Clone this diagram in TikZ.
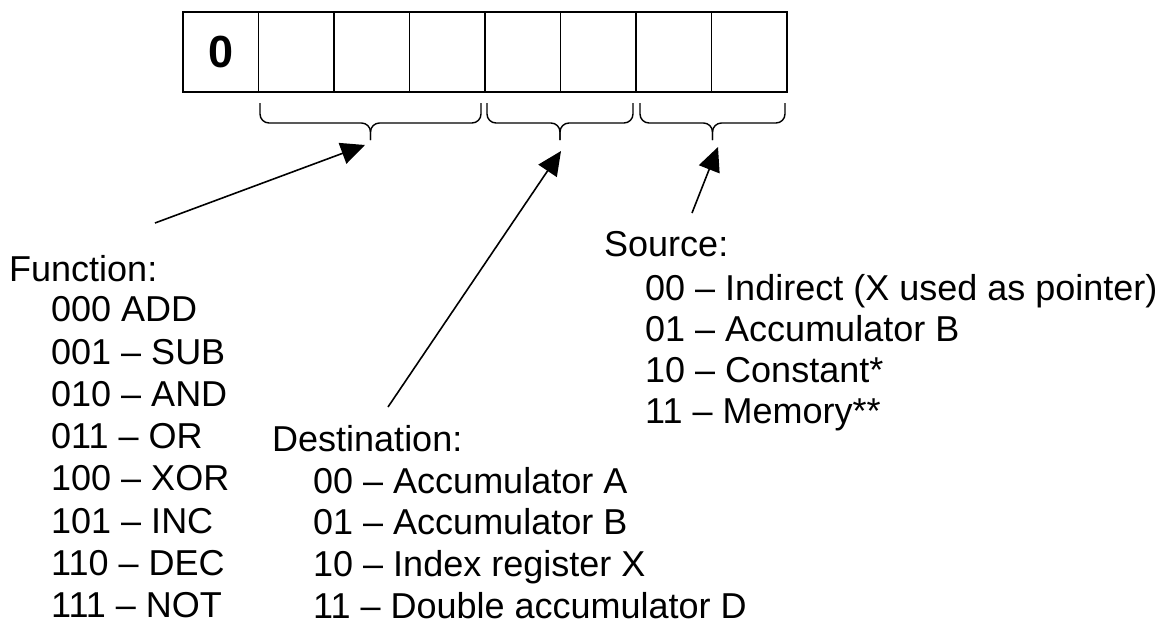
\documentclass[tikz,border=0pt]{standalone}
\usepackage{fontspec}
\setmainfont{Liberation Sans}
\usetikzlibrary{arrows.meta}

\begin{document}
\begin{tikzpicture}[
    x=1pt, y=-1pt,
    cell/.style={draw, line width=1.6pt, minimum width=75.5pt,
                 minimum height=80pt, inner sep=0pt},
    txt/.style={font=\fontsize{36}{42}\selectfont, inner sep=0pt,
                anchor=base west},
    fieldbrace/.style={line width=1.4pt, rounded corners=9pt},
    pointer/.style={line width=1.6pt, -{Triangle[length=24pt, width=22pt]}}
  ]
  \useasboundingbox (0,0) rectangle (1171,624);

  % Register
  \node[cell, font=\fontsize{45}{45}\selectfont\bfseries] (c0) at (220.75, 52) {0};
  \foreach \i in {1,...,7} {
    \node[cell] (c\i) at ({220.75+75.5*\i}, 52) {};
  }

  % Field braces
  \foreach \l/\r in {260/481, 487/633, 640/785} {
    \pgfmathsetmacro{\m}{(\l+\r)/2}
    \draw[fieldbrace] (\l,103) |- (\m,123) -- (\m,140);
    \draw[fieldbrace] (\r,103) |- (\m,123) -- (\m,140);
  }

  % Function
  \node[txt] (fnHead) at (9, 281.7) {Function:};
  \foreach \t [count=\i from 0] in {000 ADD, 001 – SUB, 010 – AND, 011 – OR,
                                    100 – XOR, 101 – INC, 110 – DEC, 111 – NOT} {
    \node[txt] (fn\i) at (51, {321.7+42.3*\i}) {\t};
  }

  % Destination
  \node[txt] (dstHead) at (272, 451.7) {Destination:};
  \foreach \t [count=\i from 0] in {00 – Accumulator A, 01 – Accumulator B,
                                    10 – Index register X, 11 – Double accumulator D} {
    \node[txt] (dst\i) at (313, {493+41.7*\i}) {\t};
  }

  % Source
  \node[txt] (srcHead) at (604, 256.7) {Source:};
  \foreach \t [count=\i from 0] in {00 – Indirect (X used as pointer), 01 – Accumulator B,
                                    10 – Constant*, 11 – Memory**} {
    \node[txt] (src\i) at (645, {300+41*\i}) {\t};
  }

  % Pointers
  \coordinate (fnTail) at (155, 223);
  \coordinate (fnTip) at (365, 145);
  \coordinate (dstTail) at (388, 407);
  \coordinate (dstTip) at (561, 151);
  \coordinate (srcTail) at (692, 213);
  \coordinate (srcTip) at (718, 147);
  \draw[pointer] (fnTail) -- (fnTip);
  \draw[pointer] (dstTail) -- (dstTip);
  \draw[pointer] (srcTail) -- (srcTip);
\end{tikzpicture}
\end{document}
